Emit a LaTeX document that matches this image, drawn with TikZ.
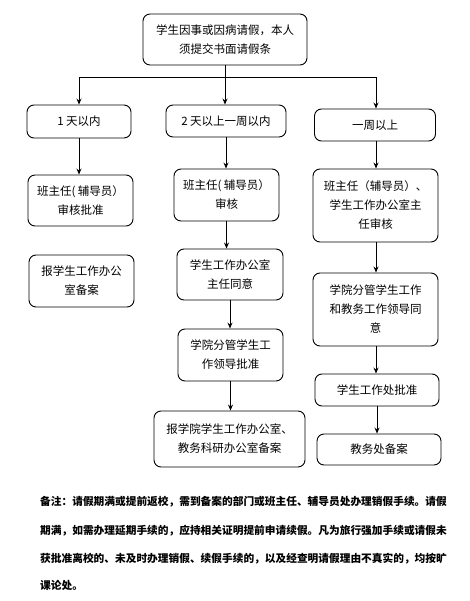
\documentclass[tikz,border=0pt]{standalone}
\usepackage{fontspec}
\setmainfont{Noto Sans CJK SC}
\usetikzlibrary{arrows.meta}
\begin{document}
\begin{tikzpicture}[x=1pt,y=-1pt,
  box/.style={draw=black, line width=0.9pt, rounded corners=7pt, align=center, inner sep=0pt,
    font=\fontsize{11.5}{19}\selectfont},
  link/.style={draw=black, line width=0.9pt},
  arr/.style={link, -{Stealth[length=6pt,width=5pt]}},
  note/.style={anchor=west, inner sep=0pt, font=\fontsize{10.7}{12}\selectfont\bfseries}]
\useasboundingbox (0,0) rectangle (469,601);
\node[box, minimum width=164pt, minimum height=51pt] (top) at (225,39.5) {学生因事或因病请假，本人\\须提交书面请假条};
\node[box, minimum width=104pt, minimum height=33pt] (b1) at (79,121.5) {1 天以内};
\node[box, minimum width=120pt, minimum height=32pt] (b2) at (226,121) {2 天以上一周以内};
\node[box, minimum width=121pt, minimum height=32pt] (b3) at (375,125) {一周以上};
\node[box, minimum width=105pt, minimum height=51pt] (l1) at (80.5,200.5) {班主任( 辅导员）\\审核批准};
\node[box, minimum width=105pt, minimum height=52pt] (l2) at (81.5,281) {报学生工作办公\\室备案};
\node[box, minimum width=105pt, minimum height=52pt] (m1) at (226.5,195) {班主任( 辅导员）\\审核};
\node[box, minimum width=106pt, minimum height=51pt] (m2) at (230,274.5) {学生工作办公室\\主任同意};
\node[box, minimum width=105pt, minimum height=52pt] (m3) at (230.5,355) {学院分管学生工\\作领导批准};
\node[box, minimum width=151pt, minimum height=56pt] (m4) at (229.5,439) {报学院学生工作办公室、\\教务科研办公室备案};
\node[box, minimum width=125pt, minimum height=73pt] (r1) at (375.5,205.5) {班主任（辅导员）、\\学生工作办公室主\\任审核};
\node[box, minimum width=125pt, minimum height=73pt] (r2) at (375.5,309.5) {学院分管学生工作\\和教务工作领导同\\意};
\node[box, minimum width=124pt, minimum height=32pt] (r3) at (377,390) {学生工作处批准};
\node[box, minimum width=124pt, minimum height=31pt] (r4) at (379,449.5) {教务处备案};
\coordinate (jc) at (225,77);
\coordinate (jl) at (79,77);
\coordinate (jr) at (376,77);
\draw[link] (top.south) -- (jc);
\draw[link] (jl) -- (jr);
\draw[arr] (jl) -- (jl |- b1.north);
\draw[arr] (jc) -- (jc |- b2.north);
\draw[arr] (jr) -- (jr |- b3.north);
\draw[arr] (b1.south) -- (b1.south |- l1.north);
\draw[arr] (b2.south) -- (b2.south |- m1.north);
\draw[arr] (m1.south) -- (m1.south |- m2.north);
\draw[arr] (m2.south) -- (m2.south |- m3.north);
\draw[arr] (m3.south) -- (m3.south |- m4.north);
\draw[arr] (jr |- b3.south) -- (jr |- r1.north);
\draw[arr] (jr |- r1.south) -- (jr |- r2.north);
\draw[arr] (jr |- r2.south) -- (jr |- r3.north);
\draw[arr] (r3.south) -- (r3.south |- r4.north);
\node[note] (n1) at (40,502) {备注：请假期满或提前返校，需到备案的部门或班主任、辅导员处办理销假手续。请假};
\node[note] (n2) at (40,531) {期满，如需办理延期手续的，应持相关证明提前申请续假。凡为旅行强加手续或请假未};
\node[note] (n3) at (40,559) {获批准离校的、未及时办理销假、续假手续的，以及经查明请假理由不真实的，均按旷};
\node[note] (n4) at (40,585) {课论处。};
\end{tikzpicture}
\end{document}
